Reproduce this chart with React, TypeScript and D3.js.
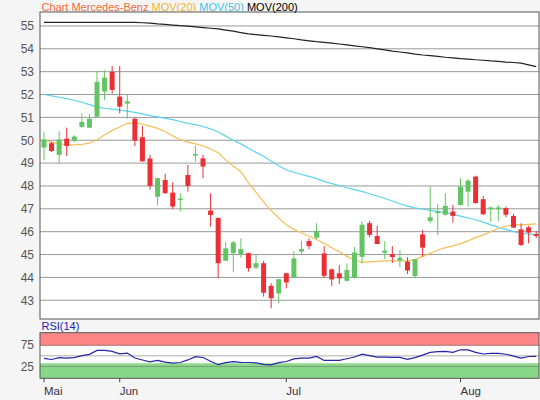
import * as d3 from "d3";

// trading-day index 0..65, Mai tick on first candle
const monthTicks = [
  { label: "Mai", idx: 0 },
  { label: "Jun", idx: 10 },
  { label: "Jul", idx: 32 },
  { label: "Aug", idx: 55 },
];

const opens = [
  49.68, 49.87, 49.36, 50.07, 49.97, 50.58, 50.55, 51.03, 52.13, 52.99, 51.91, 51.6, 50.94, 50.13, 49.2, 47.53,
  48.26, 47.71, 47.4, 48.48, 49.33, 49.21, 46.92, 46.6, 44.73, 45.06, 45.01, 45.06, 44.43, 44.62, 43.63, 43.3,
  44.18, 44.0, 45.13, 45.59, 45.74, 45.05, 44.35, 44.18, 43.85, 44.0, 44.9, 46.37, 45.81, 45.08, 45.01, 44.73,
  44.69, 44.06, 45.88, 46.47, 46.81, 46.74, 46.88, 47.17, 47.75, 48.41, 47.42, 46.98, 46.98, 47.03, 46.69, 46.1,
  46.19, 45.9,
];
const highs = [
  50.35, 49.93, 50.39, 50.55, 50.22, 51.18, 51.15, 53.03, 53.06, 53.25, 53.25, 52.02, 50.99, 50.62, 49.37, 48.36,
  48.53, 48.16, 47.68, 48.92, 49.76, 49.36, 47.68, 46.62, 45.56, 45.6, 45.71, 45.08, 44.98, 44.72, 43.74, 43.95,
  44.2, 45.15, 45.6, 45.71, 46.37, 45.37, 44.39, 44.54, 44.61, 45.33, 46.44, 46.47, 46.25, 45.59, 45.37, 45.2,
  44.88, 44.8, 46.07, 47.97, 47.2, 47.68, 47.17, 48.34, 48.3, 48.45, 47.56, 47.1, 47.17, 47.1, 46.78, 46.37,
  46.26, 46.03,
];
const lows = [
  49.12, 49.48, 48.98, 49.31, 49.92, 50.55, 50.53, 51.0, 51.75, 52.04, 51.18, 50.94, 49.75, 49.05, 47.84, 47.14,
  47.66, 46.99, 46.88, 47.75, 49.06, 48.34, 46.22, 43.96, 44.72, 44.22, 44.86, 44.25, 44.35, 43.16, 42.65, 42.87,
  43.52, 43.96, 45.0, 45.23, 45.68, 44.0, 43.63, 43.71, 43.83, 43.95, 44.61, 45.75, 45.45, 44.8, 44.64, 44.44,
  44.15, 43.96, 44.91, 46.37, 45.85, 46.7, 46.4, 47.15, 47.09, 47.23, 46.74, 46.44, 46.45, 46.63, 46.15, 45.37,
  45.49, 45.72,
];
const closes = [
  50.03, 49.53, 50.03, 49.75, 50.16, 50.8, 50.94, 52.55, 52.74, 52.2, 51.47, 51.7, 49.98, 49.08, 48.0, 48.34,
  47.68, 47.1, 47.45, 48.0, 49.4, 48.85, 46.73, 44.62, 45.27, 45.53, 45.24, 44.4, 44.62, 43.33, 43.09, 43.92,
  43.78, 44.83, 45.24, 45.37, 46.03, 44.07, 43.91, 43.96, 44.32, 45.09, 46.3, 45.86, 45.46, 45.17, 44.89, 44.86,
  44.3, 44.79, 45.3, 46.63, 46.88, 47.13, 46.69, 47.97, 48.23, 47.25, 46.76, 47.06, 47.06, 46.74, 46.18, 45.42,
  45.96, 45.81,
];

const mov20 = [
  50.0, 49.92, 49.85, 49.8, 49.8, 49.82, 49.87, 50.02, 50.24, 50.42, 50.58, 50.74, 50.76, 50.7, 50.62, 50.52,
  50.38, 50.2, 50.02, 49.92, 49.84, 49.76, 49.62, 49.45, 49.14, 48.86, 48.62, 48.15, 47.72, 47.3, 46.92, 46.6,
  46.3, 46.1, 45.95, 45.8, 45.66, 45.48, 45.3, 45.12, 44.92, 44.76, 44.66, 44.68, 44.7, 44.72, 44.72, 44.72,
  44.72, 44.78, 44.92, 45.05, 45.2, 45.3, 45.38, 45.48, 45.6, 45.74, 45.86, 46.0, 46.15, 46.25, 46.3, 46.3,
  46.32, 46.34,
];
const mov50 = [
  52.0, 51.94, 51.88, 51.82, 51.75, 51.66, 51.56, 51.46, 51.4, 51.36, 51.32, 51.27, 51.22, 51.15, 51.08, 51.02,
  50.96, 50.9, 50.82, 50.74, 50.68, 50.6, 50.5, 50.36, 50.18, 50.0, 49.84, 49.65, 49.47, 49.3, 49.08, 48.88,
  48.7, 48.6, 48.5, 48.42, 48.32, 48.2, 48.1, 48.02, 47.92, 47.84, 47.76, 47.66, 47.56, 47.45, 47.34, 47.22,
  47.12, 47.04, 46.98, 46.93, 46.88, 46.83, 46.76, 46.68, 46.6, 46.52, 46.42, 46.3, 46.2, 46.1, 46.0, 45.93,
  45.9, 45.86,
];
const mov200 = [
  55.16, 55.16, 55.16, 55.16, 55.16, 55.16, 55.16, 55.16, 55.16, 55.16, 55.16, 55.16, 55.16, 55.14, 55.12, 55.09,
  55.07, 55.04, 55.01, 54.99, 54.96, 54.93, 54.9, 54.87, 54.82, 54.77, 54.71, 54.65, 54.62, 54.59, 54.56, 54.52,
  54.48, 54.44, 54.39, 54.35, 54.31, 54.28, 54.25, 54.21, 54.17, 54.13, 54.09, 54.05, 54.0, 53.95, 53.9, 53.86,
  53.82, 53.77, 53.73, 53.7, 53.67, 53.63, 53.6, 53.57, 53.55, 53.52, 53.5, 53.47, 53.45, 53.42, 53.4, 53.37,
  53.3, 53.22,
];
const rsi14 = [
  44.2, 41.5, 45.8, 44.6, 46.0, 50.5, 53.5, 62.7, 62.7, 60.3, 54.7, 56.4, 44.8, 40.3, 35.9, 39.2,
  35.1, 33.0, 34.4, 40.4, 48.2, 46.2, 37.5, 29.3, 34.2, 36.6, 34.8, 34.4, 33.6, 30.0, 29.0, 34.2,
  36.8, 42.9, 44.6, 44.6, 48.6, 39.2, 39.2, 39.2, 43.2, 47.2, 54.0, 50.4, 47.2, 46.9, 46.2, 46.2,
  41.8, 46.0, 51.8, 58.0, 60.0, 60.3, 58.2, 64.2, 64.0, 58.0, 54.3, 55.6, 55.6, 53.8, 49.5, 44.8,
  48.4, 48.6,
];

const priceTicks = [43, 44, 45, 46, 47, 48, 49, 50, 51, 52, 53, 54, 55];
const rsiTicks = [25, 50, 75];
const rsiLabels = [25, 75];

const FONT = "'Liberation Sans', Arial, sans-serif";
const UP = "#62c462";
const DOWN = "#ea3035";

export default function App() {
  const W = 540;
  const H = 400;
  const left = 40;
  const right = 539;
  const top = 12;
  const bottom = 319;
  const rTop = 332.7;
  const rBottom = 378.3;

  const idx = d3.range(closes.length);
  const x = d3.scaleLinear().domain([0, closes.length - 1]).range([44, 536.2]);
  const y = d3.scaleLinear().domain([42.18, 55.61]).range([bottom, top]);
  const yr = d3.scaleLinear().domain([-2.6, 104.2]).range([rBottom, rTop]);

  const maLine = (vals: number[]) =>
    d3.line<number>().x((i) => x(i)).y((i) => y(vals[i])).curve(d3.curveLinear)(idx) || "";
  const rsiPath = d3.line<number>().x((i) => x(i)).y((i) => yr(rsi14[i]))(idx) || "";

  const bw = 5;

  return (
    <svg
      width={W}
      height={H}
      style={{ position: "fixed", left: 0, top: 0, fontFamily: FONT }}
    >
      <defs>
        <clipPath id="plotClip">
          <rect x={left} y={top} width={right - left} height={bottom - top} />
        </clipPath>
      </defs>
      <rect x={0} y={0} width={W} height={H} fill="#f5f5f5" />

      {/* price panel */}
      <rect x={left} y={top} width={right - left} height={bottom - top} fill="#fff" />
      {priceTicks.map((t) => (
        <g key={t}>
          <line x1={left} x2={right} y1={y(t)} y2={y(t)} stroke="#999" strokeWidth={1} />
          <text x={34} y={y(t)} dy="0.36em" textAnchor="end" fontSize={12} fill="#555">
            {t}
          </text>
        </g>
      ))}

      <g clipPath="url(#plotClip)">
        <path d={maLine(mov200)} fill="none" stroke="#222" strokeWidth={1.2} />
        <path d={maLine(mov50)} fill="none" stroke="#5bd3ee" strokeWidth={1.2} />
        <path d={maLine(mov20)} fill="none" stroke="#f5bf55" strokeWidth={1.2} />
        {idx.map((i) => {
          const up = closes[i] >= opens[i];
          const c = up ? UP : DOWN;
          const yTop = y(Math.max(opens[i], closes[i]));
          const yBot = y(Math.min(opens[i], closes[i]));
          return (
            <g key={i}>
              <line x1={x(i)} x2={x(i)} y1={y(highs[i])} y2={y(lows[i])} stroke={c} strokeWidth={1} />
              <rect x={x(i) - bw / 2} y={yTop} width={bw} height={Math.max(1.5, yBot - yTop)} fill={c} />
            </g>
          );
        })}
      </g>
      <rect x={left} y={top} width={right - left} height={bottom - top} fill="none" stroke="#555" />

      <text x={41.5} y={10.5} fontSize={11}>
        <tspan fill="#ee6a3c">Chart Mercedes-Benz </tspan>
        <tspan fill="#f0b52e">MOV(20) </tspan>
        <tspan fill="#3fc6e8">MOV(50) </tspan>
        <tspan fill="#000">MOV(200)</tspan>
      </text>

      {/* RSI panel */}
      <text x={41.5} y={330.3} fontSize={11} fill="#2424b4">
        RSI(14)
      </text>
      <rect x={left} y={rTop} width={right - left} height={rBottom - rTop} fill="#fff" />
      <rect x={left} y={rTop} width={right - left} height={yr(73.5) - rTop} fill="#ff8686" />
      <rect x={left} y={yr(32.5)} width={right - left} height={rBottom - yr(32.5)} fill="#88d888" />
      {rsiTicks.map((t) => (
        <line key={t} x1={left} x2={right} y1={yr(t)} y2={yr(t)} stroke="#777" strokeOpacity={0.6} />
      ))}
      {rsiLabels.map((t) => (
        <text key={t} x={34} y={yr(t)} dy="0.36em" textAnchor="end" fontSize={12} fill="#555">
          {t}
        </text>
      ))}
      <path d={rsiPath} fill="none" stroke="#2626a8" strokeWidth={1.2} />
      <rect x={left} y={rTop} width={right - left} height={rBottom - rTop} fill="none" stroke="#555" />

      {/* month axis */}
      {monthTicks.map((m) => (
        <g key={m.label}>
          <line x1={x(m.idx)} x2={x(m.idx)} y1={rBottom} y2={rBottom + 4} stroke="#444" />
          <text x={x(m.idx)} y={395} fontSize={11.5} fill="#334">
            {m.label}
          </text>
        </g>
      ))}
    </svg>
  );
}
